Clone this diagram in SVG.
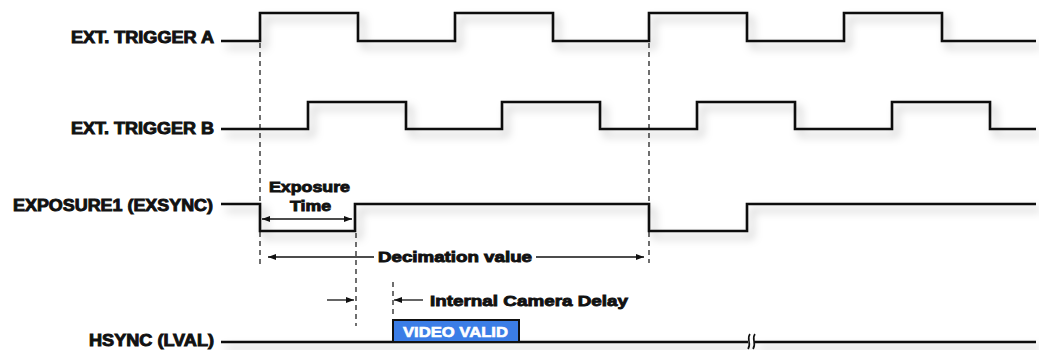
<svg xmlns="http://www.w3.org/2000/svg" width="1039" height="350" viewBox="0 0 1039 350">
<style>
.lbl{font-family:"Liberation Sans",Arial,sans-serif;font-weight:bold;fill:#111;stroke:#111;stroke-width:0.9px;}
.wave{fill:none;stroke:#111;stroke-width:2.6;stroke-linejoin:miter;}
.dash{fill:none;stroke:#222;stroke-width:1.3;stroke-dasharray:5,4;}
.arr{fill:none;stroke:#111;stroke-width:1.3;}
.vv{font-family:"Liberation Sans",Arial,sans-serif;font-weight:bold;fill:#fff;stroke:#fff;stroke-width:0.6px;}
</style>
<defs>
<filter id="sh" filterUnits="userSpaceOnUse" x="0" y="0" width="1039" height="350">
<feDropShadow dx="5" dy="6" stdDeviation="4" flood-color="#000" flood-opacity="0.28"/>
</filter>
<marker id="ah" markerUnits="userSpaceOnUse" markerWidth="9" markerHeight="7" refX="8" refY="3" orient="auto-start-reverse">
<path d="M0,0 L8,3 L0,6 Z" fill="#111"/>
</marker>
</defs>
<rect width="1039" height="350" fill="#fff"/>

<g id="connectors">
<path class="dash" d="M260,43 V265"/>
<path class="dash" d="M649,43 V263"/>
<path class="dash" d="M356,233 V326"/>
<path class="dash" d="M393,282 V316"/>
<path class="arr" d="M262,219 H352" marker-start="url(#ah)" marker-end="url(#ah)"/>
<path class="arr" d="M374,257 H268" marker-end="url(#ah)"/>
<path class="arr" d="M536,257 H644" marker-end="url(#ah)"/>
<path class="arr" d="M327,300 H354" marker-end="url(#ah)"/>
<path class="arr" d="M423,300 H394" marker-end="url(#ah)"/>
</g>

<g id="trigger-a">
<text class="lbl" x="71" y="42.5" font-size="16" textLength="143" lengthAdjust="spacingAndGlyphs">EXT. TRIGGER A</text>
<path class="wave" filter="url(#sh)" d="M221,41 H260 V13 H358 V41 H455 V13 H553 V41 H649 V13 H747 V41 H844 V13 H942 V41 H1036"/>
</g>

<g id="trigger-b">
<text class="lbl" x="71" y="134" font-size="16" textLength="143" lengthAdjust="spacingAndGlyphs">EXT. TRIGGER B</text>
<path class="wave" filter="url(#sh)" d="M221,129 H308 V102 H406 V129 H502 V102 H600 V129 H697 V102 H795 V129 H892 V102 H990 V129 H1036"/>
</g>

<g id="exposure">
<text class="lbl" x="13" y="210.5" font-size="16" textLength="200" lengthAdjust="spacingAndGlyphs">EXPOSURE1 (EXSYNC)</text>
<path class="wave" filter="url(#sh)" d="M221,204 H260 V231 H355 V204 H649 V231 H747 V204 H1036"/>
</g>

<g id="exposure-time">
<text class="lbl" x="269" y="191.5" font-size="14.5" textLength="81" lengthAdjust="spacingAndGlyphs">Exposure</text>
<text class="lbl" x="290" y="211" font-size="14.5" textLength="41" lengthAdjust="spacingAndGlyphs">Time</text>
</g>

<g id="decimation">
<text class="lbl" x="378" y="262" font-size="14.5" textLength="154" lengthAdjust="spacingAndGlyphs">Decimation value</text>
</g>

<g id="camera-delay">
<text class="lbl" x="430" y="306" font-size="15.5" textLength="198" lengthAdjust="spacingAndGlyphs">Internal Camera Delay</text>
</g>

<g id="hsync">
<text class="lbl" x="89" y="346" font-size="16" textLength="125" lengthAdjust="spacingAndGlyphs">HSYNC (LVAL)</text>
<path class="wave" filter="url(#sh)" d="M221,342 H748 M754,342 H1036"/>
<path fill="none" stroke="#111" stroke-width="1.6" d="M750,334 C746,339 752,343 748,349 M755,334 C751,339 757,343 753,349"/>
</g>

<g id="video-valid">
<rect x="393" y="320" width="126" height="22" fill="#3b7de6" stroke="#111" stroke-width="2"/>
<text class="vv" x="403" y="337" font-size="14.5" textLength="105" lengthAdjust="spacingAndGlyphs">VIDEO VALID</text>
</g>
</svg>
